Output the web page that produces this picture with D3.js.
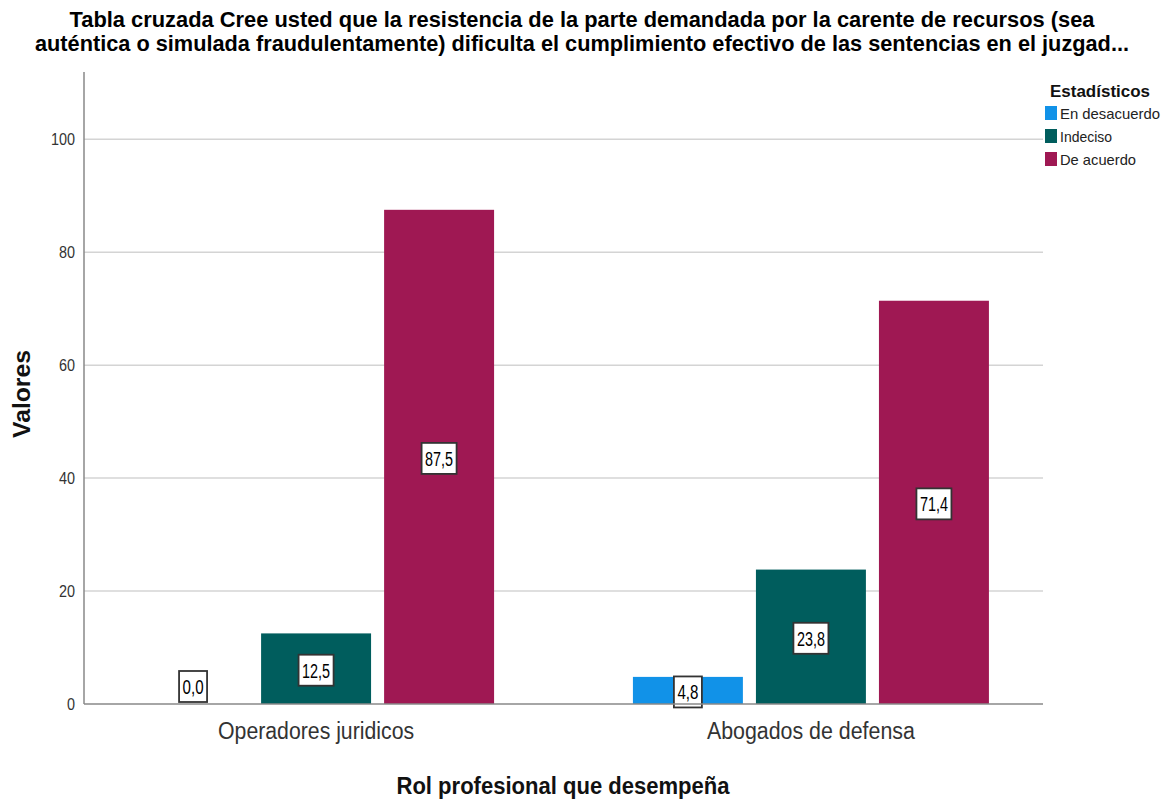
<!DOCTYPE html>
<html><head><meta charset="utf-8">
<script src="https://cdn.jsdelivr.net/npm/d3@7"></script>
<style>body{margin:0;background:#fff}svg{display:block}</style>
</head><body>
<svg id="c" width="1170" height="801"></svg>
<script>
const categories = ["Operadores juridicos", "Abogados de defensa"];
const seriesNames = ["En desacuerdo", "Indeciso", "De acuerdo"];
const enDesacuerdo = [0.0, 4.8];
const indeciso = [12.5, 23.8];
const deAcuerdo = [87.5, 71.4];
const yTicks = [0, 20, 40, 60, 80, 100];
const colors = ["#1192e8", "#005d5d", "#9f1853"];
const titleLines = ["Tabla cruzada Cree usted que la resistencia de la parte demandada por la carente de recursos (sea",
  "auténtica o simulada fraudulentamente) dificulta el cumplimiento efectivo de las sentencias en el juzgad..."];

const series = [enDesacuerdo, indeciso, deAcuerdo];
const svg = d3.select("#c");
const L = 84, R = 1043, T = 72, B = 704;
const sans = "'Liberation Sans', Arial, sans-serif";

const y = d3.scaleLinear().domain([0, 111.9]).range([B, T]);
const x0 = d3.scalePoint().domain(categories).range([L, R]).padding(0.469);
const x1 = d3.scaleBand().domain(seriesNames).range([-178, 178]).paddingInner(0.106);

// title
const titleLen = [1025, 1094];
svg.append("g").selectAll("text").data(titleLines).join("text")
  .attr("x", 582).attr("y", (d, i) => 27 + i * 24)
  .attr("text-anchor", "middle").attr("font-family", sans).attr("font-weight", "bold")
  .attr("font-size", 22).attr("fill", "#000")
  .attr("textLength", (d, i) => titleLen[i]).attr("lengthAdjust", "spacingAndGlyphs")
  .text(d => d);

// gridlines
svg.append("g").selectAll("line").data(yTicks.filter(d => d > 0)).join("line")
  .attr("x1", L).attr("x2", R).attr("y1", d => y(d)).attr("y2", d => y(d))
  .attr("stroke", "#d4d4d4").attr("stroke-width", 1.5);

// y axis
const ya = svg.append("g").attr("transform", `translate(${L},0)`)
  .call(d3.axisLeft(y).tickValues(yTicks).tickSize(0).tickPadding(9));
ya.select(".domain").remove();
ya.selectAll("text").attr("font-family", sans).attr("font-size", 16).attr("fill", "#333")
  .attr("textLength", d => String(d).length * 8).attr("lengthAdjust", "spacingAndGlyphs");
svg.append("line").attr("x1", L).attr("x2", L).attr("y1", T).attr("y2", B).attr("stroke", "#888").attr("stroke-width", 1.5);

// bars
const groups = svg.append("g").selectAll("g").data(categories).join("g")
  .attr("transform", d => `translate(${x0(d)},0)`);
groups.selectAll("rect").data((d, i) => seriesNames.map((s, j) => ({s, v: series[j][i]}))).join("rect")
  .attr("x", d => x1(d.s)).attr("width", x1.bandwidth())
  .attr("y", d => y(d.v)).attr("height", d => y(0) - y(d.v))
  .attr("fill", d => colors[seriesNames.indexOf(d.s)]);

// baseline
svg.append("line").attr("x1", L).attr("x2", R).attr("y1", B).attr("y2", B).attr("stroke", "#888").attr("stroke-width", 1.5);

// labels
const fmt = v => v.toFixed(1).replace(".", ",");
groups.each(function (cat, i) {
  const g = d3.select(this);
  seriesNames.forEach((s, j) => {
    const v = series[j][i];
    const cx = x1(s) + x1.bandwidth() / 2;
    const cy = v > 0 ? y(v / 2) + 1 : y(0) - 18;
    const lg = g.append("g").attr("transform", `translate(${cx},${cy})`);
    const txt = fmt(v);
    const tw = txt.length === 3 ? 21 : 28;
    const w = tw + 7;
    lg.append("rect").attr("x", -w / 2).attr("y", -15).attr("width", w).attr("height", 31)
      .attr("fill", "#fff").attr("stroke", "#333").attr("stroke-width", 1.8);
    lg.append("text").attr("text-anchor", "middle").attr("y", 8)
      .attr("font-family", sans).attr("font-size", 20).attr("fill", "#000")
      .attr("textLength", tw).attr("lengthAdjust", "spacingAndGlyphs").text(txt);
  });
});

// x category labels
const catLen = [196, 208];
svg.append("g").selectAll("text").data(categories).join("text")
  .attr("x", d => x0(d)).attr("y", 739).attr("text-anchor", "middle")
  .attr("font-family", sans).attr("font-size", 23).attr("fill", "#333")
  .attr("textLength", (d, i) => catLen[i]).attr("lengthAdjust", "spacingAndGlyphs")
  .text(d => d);

// axis titles
svg.append("text").attr("x", 563).attr("y", 794).attr("text-anchor", "middle")
  .attr("font-family", sans).attr("font-weight", "bold").attr("font-size", 23).attr("fill", "#111")
  .attr("textLength", 333).attr("lengthAdjust", "spacingAndGlyphs")
  .text("Rol profesional que desempeña");
svg.append("text").attr("transform", "translate(30,394) rotate(-90)").attr("text-anchor", "middle")
  .attr("font-family", sans).attr("font-weight", "bold").attr("font-size", 23).attr("fill", "#111")
  .attr("textLength", 88).attr("lengthAdjust", "spacingAndGlyphs")
  .text("Valores");

// legend
const lg = svg.append("g");
lg.append("text").attr("x", 1050).attr("y", 97).attr("font-family", sans).attr("font-weight", "bold")
  .attr("font-size", 17).attr("fill", "#111")
  .attr("textLength", 100).attr("lengthAdjust", "spacingAndGlyphs").text("Estadísticos");
lg.selectAll("rect").data(seriesNames).join("rect")
  .attr("x", 1045).attr("y", (d, i) => 106 + i * 23).attr("width", 12).attr("height", 14)
  .attr("fill", (d, i) => colors[i]);
const legLen = [100, 52, 76];
lg.selectAll("text.it").data(seriesNames).join("text").attr("class", "it")
  .attr("x", 1060).attr("y", (d, i) => 119 + i * 23).attr("font-family", sans)
  .attr("font-size", 15).attr("fill", "#222")
  .attr("textLength", (d, i) => legLen[i]).attr("lengthAdjust", "spacingAndGlyphs")
  .text(d => d);
</script>
</body></html>
